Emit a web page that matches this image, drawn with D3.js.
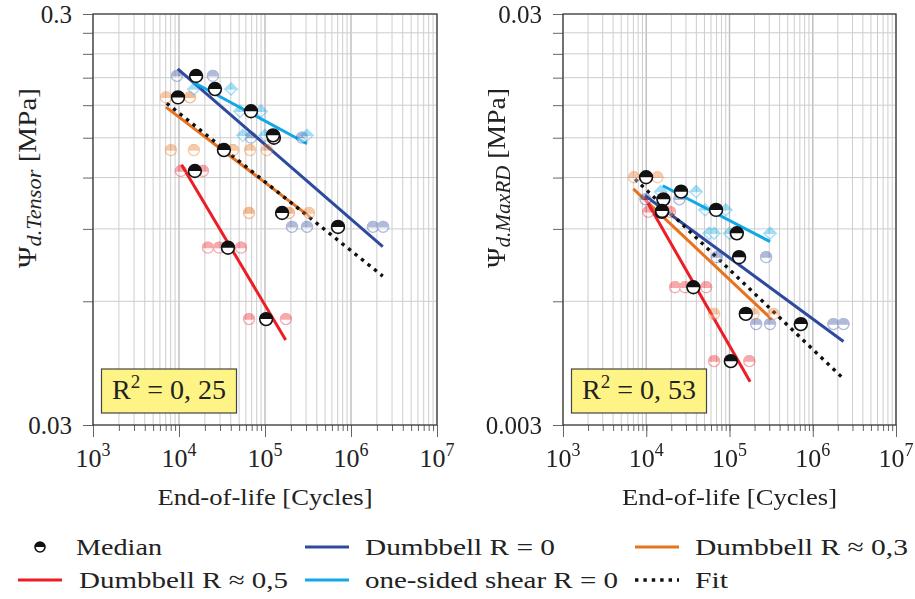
<!DOCTYPE html>
<html><head><meta charset="utf-8">
<script src="https://cdn.jsdelivr.net/npm/d3@7"></script>
<style>body{margin:0;background:#fff}svg{display:block}</style>
</head><body><svg id="c" width="915" height="599"></svg>
<script>
// ---------------- DATA ----------------
const seriesLabels = ["Dumbbell R = 0", "Dumbbell R ≈ 0,3", "Dumbbell R ≈ 0,5", "one-sided shear R = 0"];
const seriesColors = ["#2E4A9E", "#E8731E", "#EE1C25", "#10A8E6"];
const seriesShapes = ["circle", "circle", "circle", "diamond"];
const xTickExponents = [3, 4, 5, 6, 7];
const xTitle = "End-of-life [Cycles]";
const medianLabel = "Median";
const fitLabel = "Fit";

// Panel 1: Psi d.Tensor
const tensorYDomain = [0.03, 0.3];
const tensorYTickLabels = ["0.03", "0.3"];
const tensorR2 = "0, 25";
const tensorMedR0 = [[15800, 0.212], [127000, 0.150], [706000, 0.091]];
const tensorMedR03 = [[9730, 0.188], [33300, 0.140], [158000, 0.0984]];
const tensorMedR05 = [[15300, 0.1245], [37100, 0.081], [103000, 0.0543]];
const tensorMedShear = [[26200, 0.197], [68700, 0.174], [124000, 0.152]];
const tensorRawR0 = [[9480, 0.212], [24800, 0.212], [68700, 0.150], [269000, 0.150], [206000, 0.091], [308000, 0.091], [1800000, 0.091], [2360000, 0.091]];
const tensorRawR03 = [[7060, 0.188], [13400, 0.188], [8070, 0.140], [14900, 0.140], [42500, 0.140], [67000, 0.140], [105000, 0.140], [65200, 0.0984], [190000, 0.0984], [325000, 0.0984]];
const tensorRawR05 = [[10500, 0.1245], [19000, 0.1245], [21700, 0.081], [29200, 0.081], [52600, 0.081], [65200, 0.0543], [175000, 0.0543]];
const tensorRawShear = [[14900, 0.197], [40300, 0.197], [51200, 0.174], [89800, 0.174], [55400, 0.152], [100000, 0.152], [308000, 0.152]];
const tensorLineR0 = [[9660, 0.2205], [2340000, 0.0815]];
const tensorLineR03 = [[7060, 0.178], [333000, 0.0963]];
const tensorLineR05 = [[10700, 0.129], [174000, 0.0483]];
const tensorLineShear = [[14550, 0.205], [308000, 0.145]];
const tensorFit = [[7200, 0.182], [2340000, 0.0691]];

// Panel 2: Psi d.MaxRD
const maxrdYDomain = [0.003, 0.03];
const maxrdYTickLabels = ["0.003", "0.03"];
const maxrdR2 = "0, 53";
const maxrdMedR0 = [[16060, 0.01062], [130400, 0.00768], [719000, 0.00528]];
const maxrdMedR03 = [[9950, 0.01202], [15350, 0.0099], [157000, 0.00559]];
const maxrdMedR05 = [[15500, 0.00995], [36800, 0.00649], [103700, 0.00429]];
const maxrdMedShear = [[26200, 0.01109], [69000, 0.01001], [122500, 0.00878]];
const maxrdRawR0 = [[9800, 0.01062], [25000, 0.01062], [70300, 0.00768], [275000, 0.00768], [209000, 0.00528], [307000, 0.00528], [1770000, 0.00528], [2340000, 0.00528]];
const maxrdRawR03 = [[7130, 0.01202], [13600, 0.01202], [65300, 0.00559], [194000, 0.00559], [337000, 0.00559]];
const maxrdRawR05 = [[10600, 0.0099], [19300, 0.0099], [22200, 0.00649], [29200, 0.00649], [52400, 0.00649], [65300, 0.00429], [173000, 0.00429]];
const maxrdRawShear = [[14900, 0.01109], [39700, 0.01109], [50900, 0.01001], [90300, 0.01001], [56900, 0.00878], [65300, 0.00878], [99800, 0.00878], [307000, 0.00878]];
const maxrdLineR0 = [[9670, 0.01084], [2340000, 0.00479]];
const maxrdLineR03 = [[7000, 0.01126], [322000, 0.00542]];
const maxrdLineR05 = [[9670, 0.01068], [177000, 0.00382]];
const maxrdLineShear = [[15800, 0.01146], [307000, 0.00838]];
const maxrdFit = [[7330, 0.0119], [2300000, 0.0039]];

// ---------------- FONT DETECTION ----------------
function hasFont(name) {
  const c = document.createElement("canvas").getContext("2d");
  const s = "mmmmmmmmmwwwwwlllliiiQQ@@0123456789";
  const bases = ["monospace", "sans-serif"];
  return bases.some(b => {
    c.font = "40px " + b; const w0 = c.measureText(s).width;
    c.font = `40px "${name}", ${b}`; const w1 = c.measureText(s).width;
    return Math.abs(w1 - w0) > 0.5;
  });
}
const timesLike = ["Liberation Serif", "Tinos", "Times New Roman", "Nimbus Roman", "Nimbus Roman No9 L", "FreeSerif", "Times"];
let FAMILY = timesLike.find(hasFont);
let K = 1;
if (!FAMILY) { FAMILY = "DejaVu Serif"; K = 0.88; }
const FONT = `"${FAMILY}", serif`;

// ---------------- LAYOUT ----------------
const Y0 = 14, Y1 = 425;
const panels = [
  { x0: 93, x1: 437, yDomain: tensorYDomain, yTickLabels: tensorYTickLabels, labelRight: 72, titleX: 36, sub: "d.Tensor", r2: tensorR2,
    meds: [tensorMedR0, tensorMedR03, tensorMedR05, tensorMedShear],
    raws: [tensorRawR0, tensorRawR03, tensorRawR05, tensorRawShear],
    lines: [tensorLineR0, tensorLineR03, tensorLineR05, tensorLineShear], fit: tensorFit },
  { x0: 563, x1: 896, yDomain: maxrdYDomain, yTickLabels: maxrdYTickLabels, labelRight: 542, titleX: 505, sub: "d.MaxRD", r2: maxrdR2,
    meds: [maxrdMedR0, maxrdMedR03, maxrdMedR05, maxrdMedShear],
    raws: [maxrdRawR0, maxrdRawR03, maxrdRawR05, maxrdRawShear],
    lines: [maxrdLineR0, maxrdLineR03, maxrdLineR05, maxrdLineShear], fit: maxrdFit }
];

const svg = d3.select("#c").attr("font-family", FONT);

function medianMarker(sel, r) {
  sel.append("circle").attr("r", r).attr("fill", "#fff").attr("stroke", "#111").attr("stroke-width", 1.6);
  sel.append("path").attr("d", `M${-r},0 A${r},${r} 0 0 1 ${r},0 Z`).attr("fill", "#111");
}
function rawMarker(sel, color, shape) {
  if (shape === "diamond") {
    const s = 6;
    sel.append("path").attr("d", `M0,${-s} L${s},0 L0,${s} L${-s},0 Z`).attr("fill", "#fff").attr("stroke", color).attr("stroke-width", 1.3);
    sel.append("path").attr("d", `M0,${-s} L${s},0 L${-s},0 Z`).attr("fill", color).attr("stroke", color).attr("stroke-width", 1.3);
  } else {
    const r = 5.5;
    sel.append("circle").attr("r", r).attr("fill", "#fff").attr("stroke", color).attr("stroke-width", 1.3);
    sel.append("path").attr("d", `M${-r},0 A${r},${r} 0 0 1 ${r},0 Z`).attr("fill", color).attr("stroke", color).attr("stroke-width", 1.3);
  }
}

panels.forEach(p => {
  const x = d3.scaleLog().domain([1e3, 1e7]).range([p.x0, p.x1]);
  const y = d3.scaleLog().domain(p.yDomain).range([Y1, Y0]);
  const g = svg.append("g");

  const xMinor = [];
  for (let e = 3; e < 7; e++) for (let k = 1; k < 10; k++) xMinor.push(k * Math.pow(10, e));
  xMinor.push(1e7);
  const xMajor = xTickExponents.map(e => Math.pow(10, e));
  const isMajor = d => xMajor.some(m => Math.abs(m - d) < 1e-6 * m);
  const yMinor = d3.range(1, 11).map(k => p.yDomain[0] * k);

  // grid
  g.append("g").selectAll("line").data(xMinor).join("line")
    .attr("x1", d => x(d)).attr("x2", d => x(d)).attr("y1", Y0).attr("y2", Y1)
    .attr("stroke", d => isMajor(d) ? "#bdbdbd" : "#cdcdcd")
    .attr("stroke-width", d => isMajor(d) ? 1.4 : 1);
  g.append("g").selectAll("line").data(yMinor).join("line")
    .attr("x1", p.x0).attr("x2", p.x1).attr("y1", d => y(d)).attr("y2", d => y(d))
    .attr("stroke", "#cdcdcd").attr("stroke-width", 1);

  // axes ticks
  const axB1 = g.append("g").attr("transform", `translate(0,${Y1})`)
    .call(d3.axisBottom(x).tickValues(xMinor).tickSize(6).tickFormat(""));
  const axB2 = g.append("g").attr("transform", `translate(0,${Y1})`)
    .call(d3.axisBottom(x).tickValues(xMajor).tickSize(12).tickFormat(""));
  const axL = g.append("g").attr("transform", `translate(${p.x0},0)`)
    .call(d3.axisLeft(y).tickValues(yMinor).tickSize(10).tickFormat(""));
  [axB1, axB2, axL].forEach(a => { a.select(".domain").remove(); a.selectAll(".tick line").attr("stroke", "#666"); });

  // frame
  g.append("rect").attr("x", p.x0).attr("y", Y0).attr("width", p.x1 - p.x0).attr("height", Y1 - Y0)
    .attr("fill", "none").attr("stroke", "#333").attr("stroke-width", 1.2);

  // x tick labels
  xTickExponents.forEach(e => {
    const t = g.append("text").attr("x", x(Math.pow(10, e))).attr("y", 467).attr("text-anchor", "middle")
      .attr("font-size", 26 * K).attr("fill", "#222");
    t.append("tspan").text("10");
    t.append("tspan").attr("dy", -11).attr("font-size", 18 * K).text(String(e));
  });
  // y tick labels
  p.yDomain.forEach((v, i) => {
    g.append("text").attr("x", p.labelRight).attr("y", y(v) + 8.5).attr("text-anchor", "end")
      .attr("font-size", 25 * K).attr("fill", "#222").text(p.yTickLabels[i]);
  });
  // axis titles
  g.append("text").attr("x", (p.x0 + p.x1) / 2).attr("y", 505).attr("text-anchor", "middle")
    .attr("font-size", 24 * K).attr("fill", "#222").attr("textLength", 215).attr("lengthAdjust", "spacingAndGlyphs").text(xTitle);
  const yt = g.append("text").attr("transform", `translate(${p.titleX},178) rotate(-90)`).attr("text-anchor", "middle")
    .attr("font-size", 26 * K).attr("fill", "#222").attr("textLength", 180).attr("lengthAdjust", "spacingAndGlyphs");
  yt.append("tspan").text("Ψ");
  yt.append("tspan").attr("dy", 5).attr("font-size", 20 * K).attr("font-style", "italic").text(p.sub);
  yt.append("tspan").attr("dy", -5).text(" [MPa]");

  // clip
  const clipId = "clip" + p.x0;
  svg.append("clipPath").attr("id", clipId).append("rect").attr("x", p.x0).attr("y", Y0).attr("width", p.x1 - p.x0).attr("height", Y1 - Y0);
  const plot = g.append("g").attr("clip-path", `url(#${clipId})`);
  const line = d3.line().x(d => x(d[0])).y(d => y(d[1]));

  // regression lines
  p.lines.forEach((ln, i) => {
    plot.append("path").datum(ln).attr("d", line).attr("fill", "none")
      .attr("stroke", seriesColors[i]).attr("stroke-width", 3);
  });
  // fit
  plot.append("path").datum(p.fit).attr("d", line).attr("fill", "none")
    .attr("stroke", "#111").attr("stroke-width", 3.4).attr("stroke-dasharray", "3.4,4.9");

  // raw points
  p.raws.forEach((arr, i) => {
    plot.append("g").attr("opacity", 0.38).selectAll("g").data(arr).join("g")
      .attr("transform", d => `translate(${x(d[0])},${y(d[1])})`)
      .each(function () { rawMarker(d3.select(this), seriesColors[i], seriesShapes[i]); });
  });
  // medians
  p.meds.forEach(arr => {
    plot.append("g").selectAll("g").data(arr).join("g")
      .attr("transform", d => `translate(${x(d[0])},${y(d[1])})`)
      .each(function () { medianMarker(d3.select(this), 6.4); });
  });

  // R^2 box
  const bx = p.x0 + 8.5, by = 369;
  g.append("rect").attr("x", bx).attr("y", by).attr("width", 135).attr("height", 44)
    .attr("fill", "#FEF385").attr("stroke", "#444").attr("stroke-width", 1.2);
  const rt = g.append("text").attr("x", bx + 67.5).attr("y", 399).attr("text-anchor", "middle")
    .attr("font-size", 28 * K).attr("fill", "#222");
  rt.append("tspan").text("R");
  rt.append("tspan").attr("dy", -11).attr("font-size", 19 * K).text("2");
  rt.append("tspan").attr("dy", 11).text(" = " + p.r2);
});

// ---------------- LEGEND ----------------
const leg = svg.append("g").attr("font-size", 24 * K).attr("fill", "#222");
const legendItems = [
  { kind: "median", label: medianLabel, mx: 40, tx: 76, w: 86, row: 0 },
  { kind: "line", color: seriesColors[0], label: seriesLabels[0], mx: 305, tx: 365, w: 190, row: 0 },
  { kind: "line", color: seriesColors[1], label: seriesLabels[1], mx: 635, tx: 695, w: 213, row: 0 },
  { kind: "line", color: seriesColors[2], label: seriesLabels[2], mx: 18, tx: 79, w: 209, row: 1 },
  { kind: "line", color: seriesColors[3], label: seriesLabels[3], mx: 305, tx: 365, w: 253, row: 1 },
  { kind: "fit", label: fitLabel, mx: 635, tx: 695, w: 33, row: 1 }
];
const rowY = [547, 580];
legendItems.forEach(it => {
  const cy = rowY[it.row];
  if (it.kind === "median") {
    medianMarker(leg.append("g").attr("transform", `translate(${it.mx},${cy})`), 5);
  } else if (it.kind === "line") {
    leg.append("line").attr("x1", it.mx).attr("x2", it.mx + 44).attr("y1", cy).attr("y2", cy)
      .attr("stroke", it.color).attr("stroke-width", 3);
  } else {
    leg.append("line").attr("x1", it.mx).attr("x2", it.mx + 44).attr("y1", cy).attr("y2", cy)
      .attr("stroke", "#111").attr("stroke-width", 3.4).attr("stroke-dasharray", "3.4,5");
  }
  leg.append("text").attr("x", it.tx).attr("y", cy + 7.5).attr("textLength", it.w)
    .attr("lengthAdjust", "spacingAndGlyphs").text(it.label);
});
</script>
</body></html>
